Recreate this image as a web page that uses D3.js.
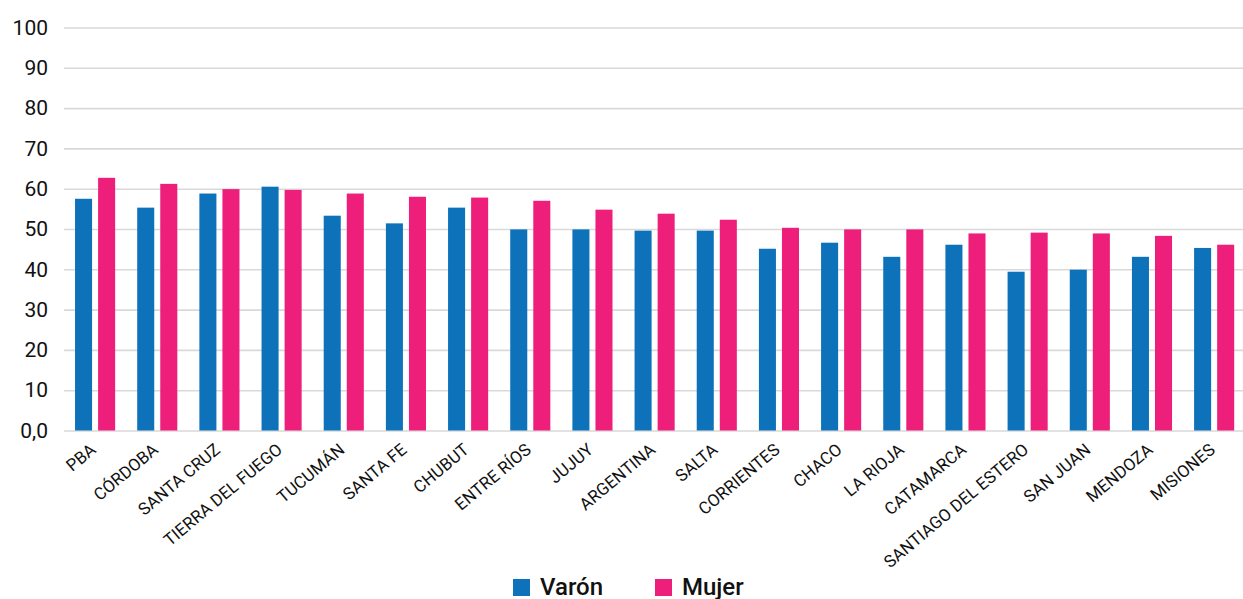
<!DOCTYPE html>
<html>
<head>
<meta charset="utf-8">
<script src="https://cdn.jsdelivr.net/npm/d3@7"></script>
<style>
  html, body { margin: 0; padding: 0; background: #fff; }
  svg { display: block; }
  svg text { font-family: Roboto, "Noto Sans", sans-serif; }
</style>
</head>
<body>
<svg id="chart" width="1243" height="599"></svg>
<script>
// Provinces, ordered as shown
const categories = ["PBA", "CÓRDOBA", "SANTA CRUZ", "TIERRA DEL FUEGO", "TUCUMÁN", "SANTA FE",
  "CHUBUT", "ENTRE RÍOS", "JUJUY", "ARGENTINA", "SALTA", "CORRIENTES", "CHACO", "LA RIOJA",
  "CATAMARCA", "SANTIAGO DEL ESTERO", "SAN JUAN", "MENDOZA", "MISIONES"];

const varon = [57.5, 55.3, 58.8, 60.5, 53.3, 51.4, 55.3, 49.9, 49.9, 49.6, 49.6, 45.1,
  46.6, 43.1, 46.1, 39.4, 39.9, 43.1, 45.3];
const mujer = [62.7, 61.2, 59.9, 59.7, 58.8, 58.0, 57.8, 57.0, 54.8, 53.8, 52.3, 50.3,
  49.9, 49.9, 48.9, 49.1, 48.9, 48.3, 46.1];

const seriesNames = ["Varón", "Mujer"];
const seriesColors = ["#0e72ba", "#ee1f7b"];
const yTicks = [0, 10, 20, 30, 40, 50, 60, 70, 80, 90, 100];

const FONT = 'Roboto, "Noto Sans", sans-serif';
const svg = d3.select("#chart");
const W = 1243, H = 599;
const plotLeft = 64, plotTop = 27.5, plotBottom = 430.5;

const x0 = d3.scaleBand().domain(categories)
  .range([plotLeft, plotLeft + 19 * 62.17])
  .paddingInner(0.355).paddingOuter(0.1775);
const x1 = d3.scaleBand().domain(seriesNames)
  .range([0, x0.bandwidth()]).paddingInner(0.261);
const y = d3.scaleLinear().domain([0, 100]).range([plotBottom, plotTop]);

// Horizontal gridlines and value axis
const yAxis = d3.axisLeft(y).tickValues(yTicks)
  .tickSize(-(W - plotLeft))
  .tickFormat(d => d === 0 ? "0,0" : d3.format("d")(d));
const gy = svg.append("g").attr("transform", `translate(${plotLeft},0)`).call(yAxis)
  .attr("font-family", FONT);
gy.select(".domain").remove();
gy.selectAll(".tick line").attr("stroke", "#d9d9d9").attr("stroke-width", 1.6);
gy.selectAll(".tick text").attr("x", -16).attr("font-size", 21).attr("fill", "#111");

// Bars
const rows = categories.map((c, i) => ({ c, vals: [varon[i], mujer[i]] }));
const groups = svg.append("g").selectAll("g").data(rows).join("g")
  .attr("transform", d => `translate(${x0(d.c)},0)`);
groups.selectAll("rect")
  .data(d => d.vals.map((v, k) => ({ key: seriesNames[k], v, k })))
  .join("rect")
  .attr("x", d => x1(d.key))
  .attr("width", x1.bandwidth())
  .attr("y", d => y(d.v))
  .attr("height", d => y(0) - y(d.v))
  .attr("fill", d => seriesColors[d.k]);

// Category labels, rotated
const xAxis = d3.axisBottom(x0).tickSize(0);
const gx = svg.append("g").attr("transform", `translate(0,${y(0)})`).call(xAxis)
  .attr("font-family", FONT);
gx.select(".domain").remove();
gx.selectAll(".tick text")
  .attr("font-size", 17).attr("fill", "#111")
  .attr("text-anchor", "end")
  .attr("y", 0).attr("dy", 0)
  .attr("transform", "translate(2,21) rotate(-40)");

// Legend
const legend = svg.append("g");
const legendX = [513, 655];
seriesNames.forEach((n, k) => {
  legend.append("rect").attr("x", legendX[k]).attr("y", 579).attr("width", 17).attr("height", 17)
    .attr("fill", seriesColors[k]);
  legend.append("text").attr("x", legendX[k] + 27).attr("y", 595)
    .attr("font-family", FONT)
    .attr("font-size", 24).attr("font-weight", 500).attr("fill", "#111").text(n);
});
</script>
</body>
</html>
